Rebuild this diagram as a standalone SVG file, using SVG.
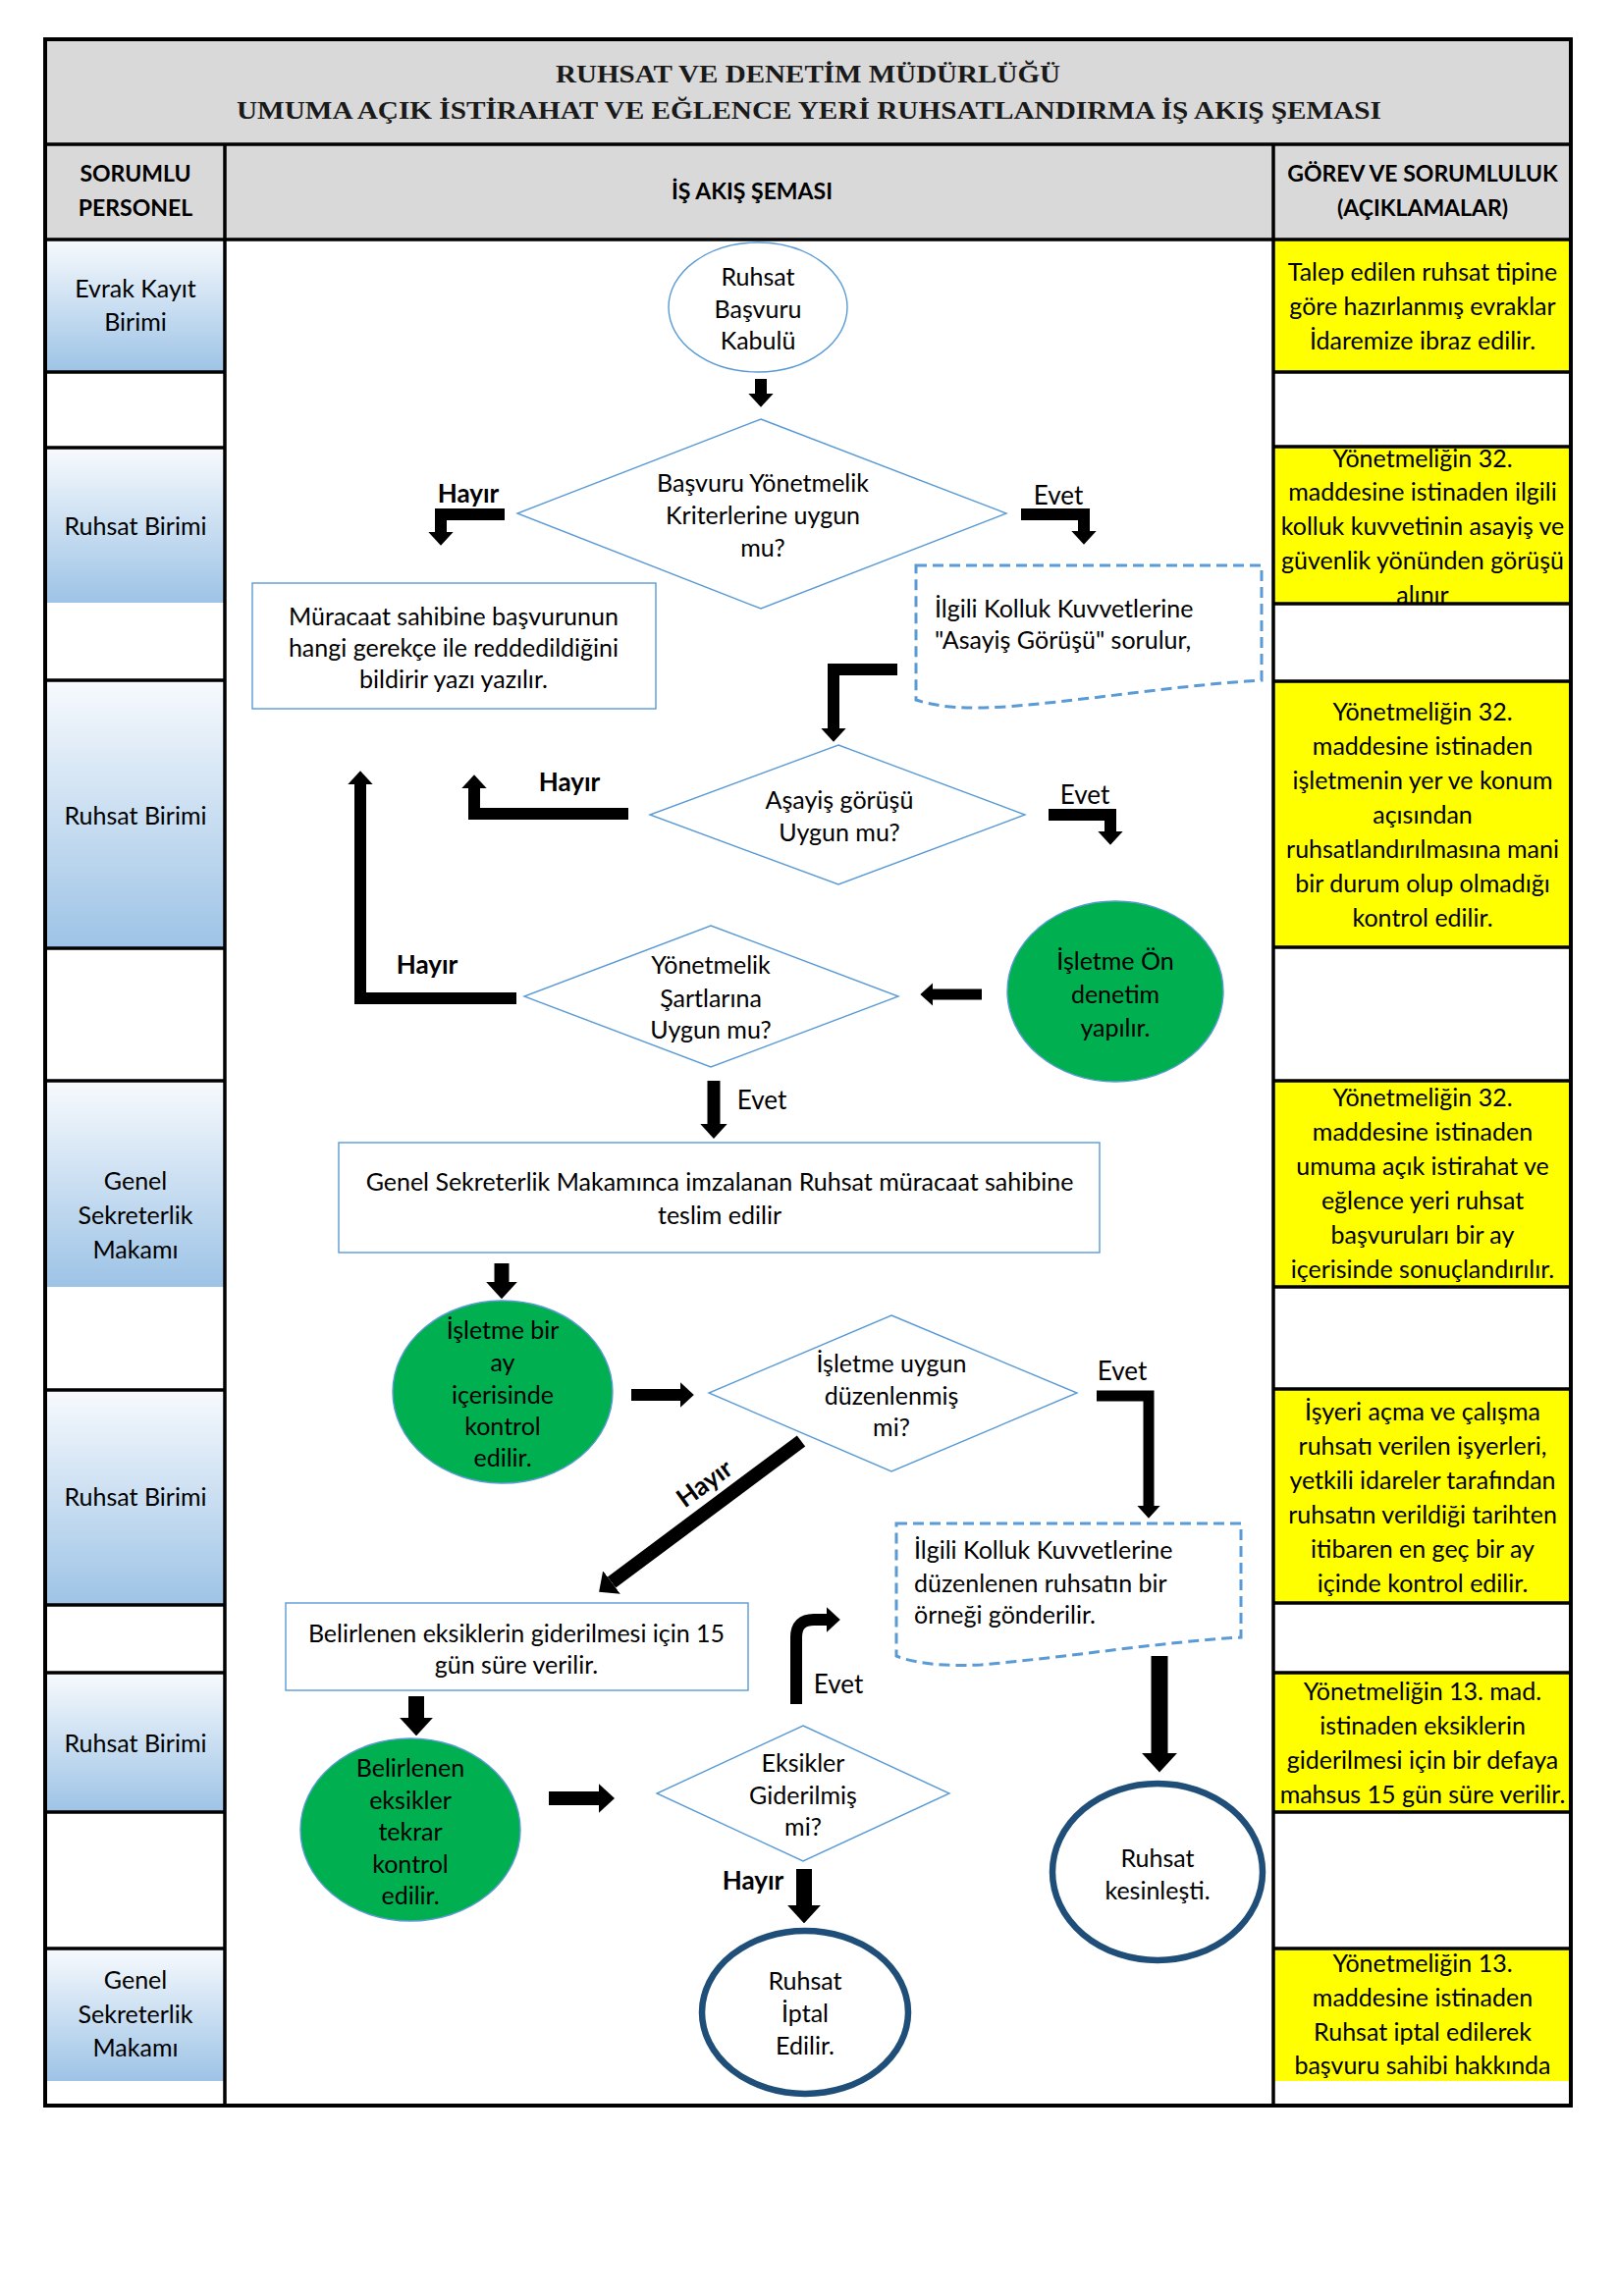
<svg xmlns="http://www.w3.org/2000/svg" width="1646" height="2339" viewBox="0 0 1646 2339">
<defs>
<linearGradient id="cellGrad" x1="0" y1="0" x2="0" y2="1">
<stop offset="0" stop-color="#f7fafd"/>
<stop offset="1" stop-color="#9dc3e6"/>
</linearGradient>
<marker id="ah" viewBox="0 0 12 22" refX="0" refY="11" markerWidth="1.15" markerHeight="2.2" markerUnits="strokeWidth" orient="auto">
<polygon points="0,0 12,11 0,22" fill="#000"/>
</marker>
<style>
.t{font-family:Lato,"Liberation Sans",sans-serif;font-size:25px;fill:#000;text-anchor:middle}
.tl{font-family:Lato,"Liberation Sans",sans-serif;font-size:25px;fill:#000;text-anchor:start}
.hb{font-family:Lato,"Liberation Sans",sans-serif;font-size:23px;font-weight:bold;fill:#000;text-anchor:middle}
.lb{font-family:Lato,"Liberation Sans",sans-serif;font-size:26px;font-weight:bold;fill:#000;text-anchor:middle}
.ev{font-family:Lato,"Liberation Sans",sans-serif;font-size:26px;fill:#000;text-anchor:middle}
.ttl{font-family:"Liberation Serif",serif;font-size:25px;font-weight:bold;fill:#1a1a1a;text-anchor:middle}
.grid{stroke:#000;stroke-width:3.5;fill:none}
.node{fill:#fff;stroke:#5b9bd5;stroke-width:1.4}
.doc{fill:#fff;stroke:#5b9bd5;stroke-width:3;stroke-dasharray:11 6}
.green{fill:#00b050;stroke:#5b9bd5;stroke-width:1.4}
.end{fill:#fff;stroke:#1f4e79;stroke-width:6.5}
.arr{fill:none;stroke:#000;stroke-linejoin:miter;marker-end:url(#ah)}
.yel{fill:#ffff00}
.cell{fill:url(#cellGrad)}
</style>
</defs>
<rect x="0" y="0" width="1646" height="2339" fill="#fff"/>

<g id="table">
<rect x="46" y="40" width="1554" height="204" fill="#d9d9d9"/>
<rect class="cell" x="48" y="244" width="181" height="135"/>
<rect class="cell" x="48" y="456" width="181" height="158"/>
<rect class="cell" x="48" y="693" width="181" height="273"/>
<rect class="cell" x="48" y="1101" width="181" height="210"/>
<rect class="cell" x="48" y="1416" width="181" height="219"/>
<rect class="cell" x="48" y="1704" width="181" height="142"/>
<rect class="cell" x="48" y="1985" width="181" height="135"/>
<rect class="yel" x="1297" y="244" width="301" height="135"/>
<rect class="yel" x="1297" y="455" width="301" height="160"/>
<rect class="yel" x="1297" y="694" width="301" height="271"/>
<rect class="yel" x="1297" y="1101" width="301" height="210"/>
<rect class="yel" x="1297" y="1415" width="301" height="218"/>
<rect class="yel" x="1297" y="1704" width="301" height="142"/>
<rect class="yel" x="1297" y="1985" width="301" height="135"/>

<text class="ttl" x="823" y="84" textLength="514" lengthAdjust="spacingAndGlyphs">RUHSAT VE DENETİM MÜDÜRLÜĞÜ</text>
<text class="ttl" x="824" y="121" textLength="1166" lengthAdjust="spacingAndGlyphs">UMUMA AÇIK İSTİRAHAT VE EĞLENCE YERİ RUHSATLANDIRMA İŞ AKIŞ ŞEMASI</text>
<text class="hb" x="138" y="185">SORUMLU</text>
<text class="hb" x="138" y="220">PERSONEL</text>
<text class="hb" x="766" y="203">İŞ AKIŞ ŞEMASI</text>
<text class="hb" x="1449" y="185">GÖREV VE SORUMLULUK</text>
<text class="hb" x="1449" y="220">(AÇIKLAMALAR)</text>

<text class="t" x="138" y="303">Evrak Kayıt</text>
<text class="t" x="138" y="337">Birimi</text>
<text class="t" x="138" y="545">Ruhsat Birimi</text>
<text class="t" x="138" y="840">Ruhsat Birimi</text>
<text class="t" x="138" y="1212">Genel</text>
<text class="t" x="138" y="1247">Sekreterlik</text>
<text class="t" x="138" y="1282">Makamı</text>
<text class="t" x="138" y="1534">Ruhsat Birimi</text>
<text class="t" x="138" y="1785">Ruhsat Birimi</text>
<text class="t" x="138" y="2026">Genel</text>
<text class="t" x="138" y="2061">Sekreterlik</text>
<text class="t" x="138" y="2095">Makamı</text>

<text class="t" x="1449" y="286">Talep edilen ruhsat tipine</text>
<text class="t" x="1449" y="321">göre hazırlanmış evraklar</text>
<text class="t" x="1449" y="356">İdaremize ibraz edilir.</text>

<text class="t" x="1449" y="476">Yönetmeliğin 32.</text>
<text class="t" x="1449" y="510">maddesine istinaden ilgili</text>
<text class="t" x="1449" y="545">kolluk kuvvetinin asayiş ve</text>
<text class="t" x="1449" y="580">güvenlik yönünden görüşü</text>
<text class="t" x="1449" y="615">alınır</text>

<text class="t" x="1449" y="734">Yönetmeliğin 32.</text>
<text class="t" x="1449" y="769">maddesine istinaden</text>
<text class="t" x="1449" y="804">işletmenin yer ve konum</text>
<text class="t" x="1449" y="839">açısından</text>
<text class="t" x="1449" y="874">ruhsatlandırılmasına mani</text>
<text class="t" x="1449" y="909">bir durum olup olmadığı</text>
<text class="t" x="1449" y="944">kontrol edilir.</text>

<text class="t" x="1449" y="1127">Yönetmeliğin 32.</text>
<text class="t" x="1449" y="1162">maddesine istinaden</text>
<text class="t" x="1449" y="1197">umuma açık istirahat ve</text>
<text class="t" x="1449" y="1232">eğlence yeri ruhsat</text>
<text class="t" x="1449" y="1267">başvuruları bir ay</text>
<text class="t" x="1449" y="1302">içerisinde sonuçlandırılır.</text>

<text class="t" x="1449" y="1447">İşyeri açma ve çalışma</text>
<text class="t" x="1449" y="1482">ruhsatı verilen işyerleri,</text>
<text class="t" x="1449" y="1517">yetkili idareler tarafından</text>
<text class="t" x="1449" y="1552">ruhsatın verildiği tarihten</text>
<text class="t" x="1449" y="1587">itibaren en geç bir ay</text>
<text class="t" x="1449" y="1622">içinde kontrol edilir.</text>

<text class="t" x="1449" y="1732">Yönetmeliğin 13. mad.</text>
<text class="t" x="1449" y="1767">istinaden eksiklerin</text>
<text class="t" x="1449" y="1802">giderilmesi için bir defaya</text>
<text class="t" x="1449" y="1837">mahsus 15 gün süre verilir.</text>

<text class="t" x="1449" y="2009">Yönetmeliğin 13.</text>
<text class="t" x="1449" y="2044">maddesine istinaden</text>
<text class="t" x="1449" y="2079">Ruhsat iptal edilerek</text>
<text class="t" x="1449" y="2113">başvuru sahibi hakkında</text>

<path class="grid" d="M46,147H1600 M46,244H1600 M229,147V2145 M1297,147V2145
M46,379H229 M46,456H229 M46,693H229 M46,966H229 M46,1101H229 M46,1416H229 M46,1635H229 M46,1704H229 M46,1846H229 M46,1985H229
M1297,379H1600 M1297,455H1600 M1297,615H1600 M1297,694H1600 M1297,965H1600 M1297,1101H1600 M1297,1311H1600 M1297,1415H1600 M1297,1633H1600 M1297,1704H1600 M1297,1846H1600 M1297,1985H1600"/>
<rect x="46" y="40" width="1554" height="2105" fill="none" stroke="#000" stroke-width="4"/>
</g>

<g id="connectors">
<path class="arr" stroke-width="12" d="M775,386V401"/>
<path class="arr" stroke-width="12" d="M514,524H449V542"/>
<path class="arr" stroke-width="12" d="M1040,524H1104V541"/>
<path class="arr" stroke-width="12" d="M914,682H849V742"/>
<path class="arr" stroke-width="12" d="M640,829H483V803"/>
<path class="arr" stroke-width="12" d="M526,1017H367V799"/>
<path class="arr" stroke-width="12" d="M1068,830H1131V847"/>
<path class="arr" stroke-width="11" d="M1000,1013H950"/>
<path class="arr" stroke-width="13" d="M727,1101V1145"/>
<path class="arr" stroke-width="15" d="M511,1287V1306"/>
<path class="arr" stroke-width="12" d="M643,1421H693"/>
<path class="arr" stroke-width="11" d="M1117,1422H1170V1534"/>
<path class="arr" stroke-width="14" d="M816,1468L623,1612"/>
<path class="arr" stroke-width="17" d="M1181,1687V1786"/>
<path class="arr" stroke-width="16" d="M424,1728V1750"/>
<path class="arr" stroke-width="14" d="M559,1832H610"/>
<path class="arr" stroke-width="12" d="M811,1736V1668Q811,1650 829,1650H842"/>
<path class="arr" stroke-width="16" d="M819,1904V1941"/>
<text class="lb" x="477" y="512">Hayır</text>
<text class="ev" x="1078" y="514">Evet</text>
<text class="lb" x="580" y="806">Hayır</text>
<text class="ev" x="1105" y="819">Evet</text>
<text class="lb" x="435" y="992">Hayır</text>
<text class="ev" x="776" y="1130">Evet</text>
<text class="ev" x="1143" y="1406">Evet</text>
<text class="lb" transform="translate(718,1512) rotate(-36)" x="0" y="8">Hayır</text>
<text class="ev" x="854" y="1725">Evet</text>
<text class="lb" x="767" y="1925">Hayır</text>
</g>

<g id="n1">
<ellipse class="node" cx="772" cy="313" rx="91" ry="66"/>
<text class="t" x="772" y="291">Ruhsat</text>
<text class="t" x="772" y="324">Başvuru</text>
<text class="t" x="772" y="356">Kabulü</text>
</g>
<g id="n2">
<polygon class="node" points="775,427 1025,523 775,620 527,523"/>
<text class="t" x="777" y="501">Başvuru Yönetmelik</text>
<text class="t" x="777" y="534">Kriterlerine uygun</text>
<text class="t" x="777" y="567">mu?</text>
</g>
<g id="n3">
<rect class="node" x="257" y="594" width="411" height="128"/>
<text class="t" x="462" y="637">Müracaat sahibine başvurunun</text>
<text class="t" x="462" y="669">hangi gerekçe ile reddedildiğini</text>
<text class="t" x="462" y="701">bildirir yazı yazılır.</text>
</g>
<g id="n4">
<path class="doc" d="M933,576H1285V693C1200,698 1120,712 1025,720C990,722 960,722 933,713Z"/>
<text class="tl" x="952" y="629">İlgili Kolluk Kuvvetlerine</text>
<text class="tl" x="952" y="661">"Asayiş Görüşü" sorulur,</text>
</g>
<g id="n5">
<polygon class="node" points="854,759 1044,830 854,901 662,830"/>
<text class="t" x="855" y="824">Aşayiş görüşü</text>
<text class="t" x="855" y="857">Uygun mu?</text>
</g>
<g id="n6">
<ellipse class="green" cx="1136" cy="1010" rx="110" ry="92"/>
<text class="t" x="1136" y="988">İşletme Ön</text>
<text class="t" x="1136" y="1022">denetim</text>
<text class="t" x="1136" y="1056">yapılır.</text>
</g>
<g id="n7">
<polygon class="node" points="724,943 915,1015 724,1087 534,1015"/>
<text class="t" x="724" y="992">Yönetmelik</text>
<text class="t" x="724" y="1026">Şartlarına</text>
<text class="t" x="724" y="1058">Uygun mu?</text>
</g>
<g id="n8">
<rect class="node" x="345" y="1164" width="775" height="112"/>
<text class="t" x="733" y="1213">Genel Sekreterlik Makamınca imzalanan Ruhsat müracaat sahibine</text>
<text class="t" x="733" y="1247">teslim edilir</text>
</g>
<g id="n9">
<ellipse class="green" cx="512" cy="1418" rx="112" ry="93"/>
<text class="t" x="512" y="1364">İşletme bir</text>
<text class="t" x="512" y="1397">ay</text>
<text class="t" x="512" y="1430">içerisinde</text>
<text class="t" x="512" y="1462">kontrol</text>
<text class="t" x="512" y="1494">edilir.</text>
</g>
<g id="n10">
<polygon class="node" points="908,1340 1097,1419 908,1499 722,1419"/>
<text class="t" x="908" y="1398">İşletme uygun</text>
<text class="t" x="908" y="1431">düzenlenmiş</text>
<text class="t" x="908" y="1463">mi?</text>
</g>
<g id="n11">
<path class="doc" d="M913,1552H1264V1668C1180,1673 1090,1688 999,1696C960,1698 930,1694 913,1687Z"/>
<text class="tl" x="931" y="1588">İlgili Kolluk Kuvvetlerine</text>
<text class="tl" x="931" y="1622">düzenlenen ruhsatın bir</text>
<text class="tl" x="931" y="1654">örneği gönderilir.</text>
</g>
<g id="n12">
<rect class="node" x="291" y="1633" width="471" height="89"/>
<text class="t" x="526" y="1673">Belirlenen eksiklerin giderilmesi için 15</text>
<text class="t" x="526" y="1705">gün süre verilir.</text>
</g>
<g id="n13">
<ellipse class="green" cx="418" cy="1864" rx="112" ry="93"/>
<text class="t" x="418" y="1810">Belirlenen</text>
<text class="t" x="418" y="1843">eksikler</text>
<text class="t" x="418" y="1875">tekrar</text>
<text class="t" x="418" y="1908">kontrol</text>
<text class="t" x="418" y="1940">edilir.</text>
</g>
<g id="n14">
<polygon class="node" points="818,1758 967,1827 818,1896 669,1827"/>
<text class="t" x="818" y="1805">Eksikler</text>
<text class="t" x="818" y="1838">Giderilmiş</text>
<text class="t" x="818" y="1870">mi?</text>
</g>
<g id="n15">
<ellipse class="end" cx="1179" cy="1907" rx="107" ry="90"/>
<text class="t" x="1179" y="1902">Ruhsat</text>
<text class="t" x="1179" y="1935">kesinleşti.</text>
</g>
<g id="n16">
<ellipse class="end" cx="820" cy="2050" rx="105" ry="83"/>
<text class="t" x="820" y="2027">Ruhsat</text>
<text class="t" x="820" y="2060">İptal</text>
<text class="t" x="820" y="2093">Edilir.</text>
</g>
</svg>
